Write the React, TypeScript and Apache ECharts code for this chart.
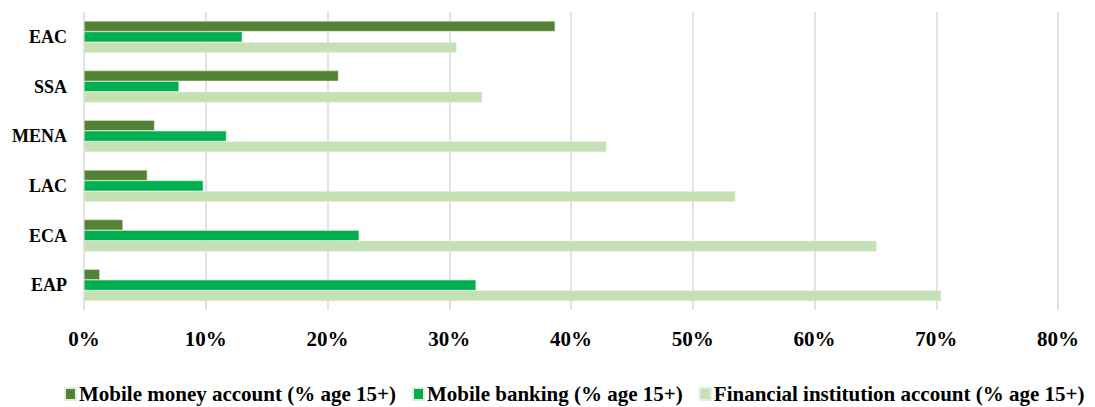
import React, { useEffect, useRef } from "react";
import * as echarts from "echarts";

const categories = ["EAC", "SSA", "MENA", "LAC", "ECA", "EAP"];
const mobileMoney = [38.7, 20.9, 5.8, 5.2, 3.2, 1.3];
const mobileBanking = [13.0, 7.8, 11.7, 9.8, 22.6, 32.2];
const financialInstitution = [30.6, 32.7, 42.9, 53.5, 65.1, 70.4];
const seriesNames = [
  "Mobile money account (% age 15+)",
  "Mobile banking (% age 15+)",
  "Financial institution account (% age 15+)",
];
const colors = ["#548235", "#00B050", "#C5E0B4"];

const FONT = "Times New Roman, Liberation Serif, DejaVu Serif, serif";

export default function App() {
  const ref = useRef<HTMLDivElement>(null);
  useEffect(() => {
    document.body.style.margin = "0";
    const chart = echarts.init(ref.current!, null, { renderer: "svg" });
    const data = [mobileMoney, mobileBanking, financialInstitution];
    chart.setOption({
      animation: false,
      textStyle: { fontFamily: FONT },
      grid: { left: 84, right: 37, top: 12, bottom: 97 },
      legend: {
        data: seriesNames,
        top: 383,
        left: 64,
        padding: 0,
        itemWidth: 11,
        itemHeight: 12,
        itemGap: 16,
        icon: "rect",
        textStyle: { fontFamily: FONT, fontWeight: "bold", fontSize: 21, lineHeight: 22, color: "#000", padding: [0, 0, 0, -2] },
      },
      xAxis: {
        type: "value",
        min: 0,
        max: 80,
        interval: 10,
        axisLine: { show: false },
        axisTick: { show: false },
        splitLine: { lineStyle: { color: "#D9D9D9", width: 1.5 } },
        axisLabel: {
          formatter: "{value}%",
          fontFamily: FONT,
          fontWeight: "bold",
          fontSize: 21,
          color: "#000",
          margin: 18,
        },
      },
      yAxis: {
        type: "category",
        data: categories,
        inverse: true,
        axisLine: { show: false },
        axisTick: { show: false },
        axisLabel: {
          fontFamily: FONT,
          fontWeight: "bold",
          fontSize: 18,
          color: "#000",
          margin: 17,
        },
      },
      series: seriesNames.map((name, i) => ({
        name,
        type: "bar",
        data: data[i],
        barGap: "0%",
        barCategoryGap: "36%",
        itemStyle: { color: colors[i], borderColor: "#E2EFDA", borderWidth: 0.5 },
      })),
    });
    return () => chart.dispose();
  }, []);
  return <div ref={ref} style={{ width: 1095, height: 407 }} />;
}
